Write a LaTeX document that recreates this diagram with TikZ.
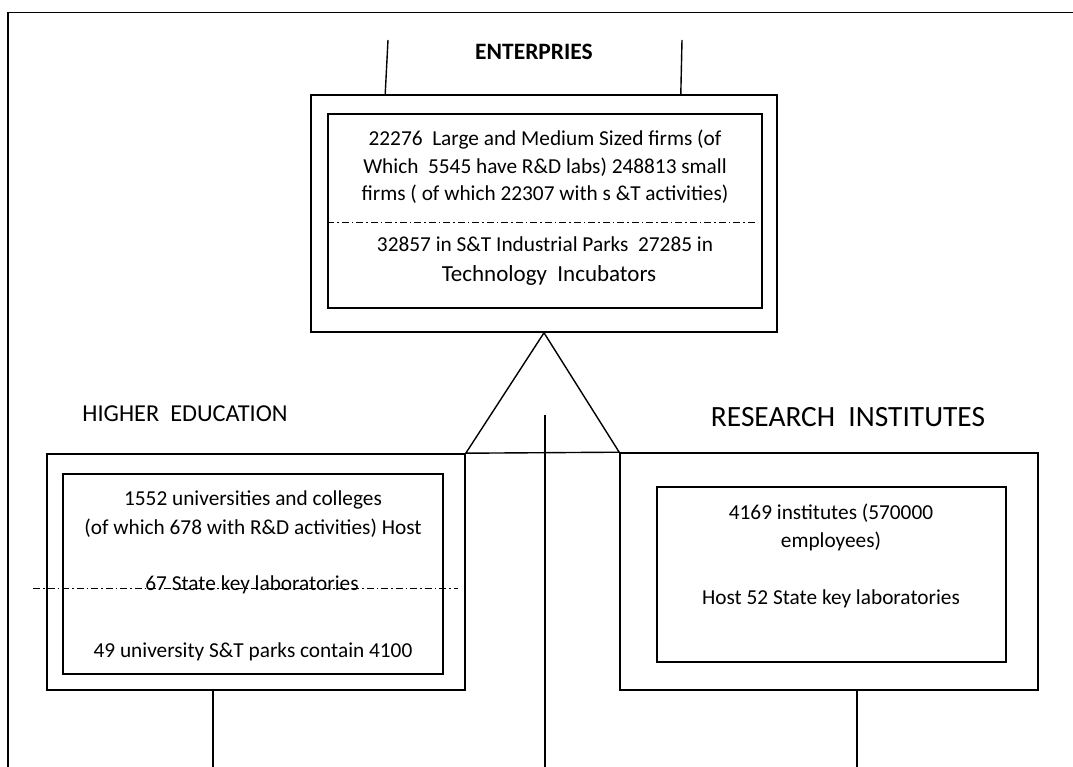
\documentclass[tikz,border=0pt]{standalone}
\usepackage{fontspec}
\setmainfont{Carlito}
\begin{document}
\begin{tikzpicture}[x=1pt,y=-1pt,
  frame/.style={line width=1.6pt},
  box/.style={draw,line width=1.6pt,inner sep=0pt},
  link/.style={line width=1.4pt},
  sep/.style={line width=1pt,dash pattern=on 7pt off 3pt on 1.5pt off 3pt},
  txt/.style={anchor=base,inner sep=0pt,font=\fontsize{21.3}{25}\selectfont},
  bigtxt/.style={anchor=base,inner sep=0pt,font=\fontsize{23}{27}\selectfont}]
\useasboundingbox (0,0) rectangle (1073,767);
% outer frame
\draw[frame] (1073,12.5) -- (8,12.5) -- (8,767);
% enterprises
\node[anchor=base,inner sep=0pt,font=\bfseries\fontsize{23.5}{28}\selectfont] (enttitle) at (534,60) {ENTERPRIES};
\node[box,minimum width=466pt,minimum height=237pt] (eo) at (544,213.5) {};
\node[box,line width=1.4pt,minimum width=434pt,minimum height=194pt] (ei) at (545,211) {};
\coordinate (tl) at (388,40);
\coordinate (tr) at (682,40);
\draw[link] (tl) -- ([xshift=75pt]eo.north west);
\draw[link] (tr) -- ([xshift=-97pt]eo.north east);
\node[txt] (e1) at (545,146) {22276~ Large and Medium Sized firms (of};
\node[txt] (e2) at (545,174) {Which~ 5545 have R\&D labs) 248813 small};
\node[txt] (e3) at (545,201) {firms ( of which 22307 with s \&T activities)};
\draw[sep] ([yshift=-12pt]ei.west) -- ([xshift=-7pt,yshift=-12pt]ei.east);
\node[txt] (e4) at (545,252) {32857 in S\&T Industrial Parks~ 27285 in};
\node[bigtxt] (e5) at (549,282) {Technology~ Incubators};
% higher education
\node[anchor=base,inner sep=0pt,font=\fontsize{24.3}{29}\selectfont] (hetitle) at (185,421) {HIGHER~ EDUCATION};
\node[box,minimum width=418pt,minimum height=236pt] (heo) at (256,572) {};
\node[box,line width=1.4pt,minimum width=380pt,minimum height=200pt] (hei) at (253,574) {};
\node[txt] (h1) at (253,505) {1552 universities and colleges};
\node[txt] (h2) at (253,534) {(of which 678 with R\&D activities) Host};
\node[txt] (h3) at (252,590) {67 State key laboratories};
\coordinate (hsl) at (33,588);
\coordinate (hsr) at (458,588);
\draw[sep] (hsl) -- (hsr);
\node[txt] (h4) at (253,657) {49 university S\&T parks contain 4100};
% research institutes
\node[anchor=base,inner sep=0pt,font=\fontsize{29.4}{35}\selectfont] (rititle) at (848,426) {RESEARCH~ INSTITUTES};
\node[box,minimum width=418pt,minimum height=237pt] (rio) at (829,571.5) {};
\node[box,line width=1.4pt,minimum width=349pt,minimum height=175pt] (rii) at (831.5,574.5) {};
\node[txt] (r1) at (831,519) {4169 institutes (570000};
\node[txt] (r2) at (831,547) {employees)};
\node[txt] (r3) at (831,604) {Host 52 State key laboratories};
% connectors
\draw[link,line join=miter] (eo.south) -- (heo.north east) -- (rio.north west) -- cycle;
\coordinate (cmid) at (545,415);
\coordinate (cbot) at (545,767);
\draw[link] (cmid) -- (cbot);
\coordinate (hbot) at (213,767);
\coordinate (rbot) at (857,767);
\draw[link] ([xshift=-43pt]heo.south) -- (hbot);
\draw[link] ([xshift=28pt]rio.south) -- (rbot);
\end{tikzpicture}
\end{document}
